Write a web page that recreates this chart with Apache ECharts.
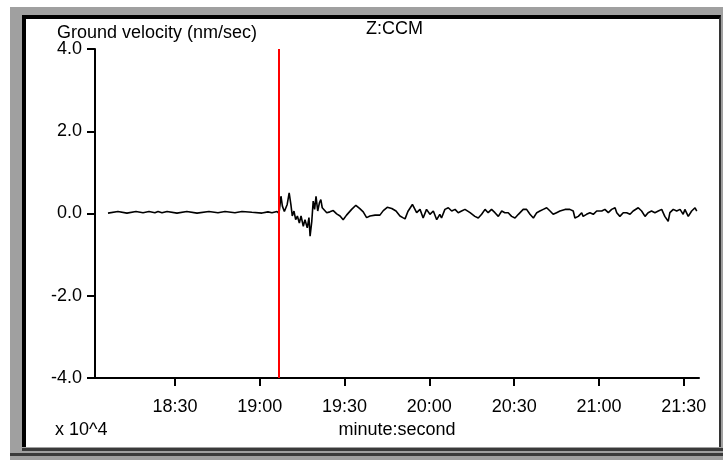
<!DOCTYPE html>
<html>
<head>
<meta charset="utf-8">
<script src="https://cdn.jsdelivr.net/npm/echarts@6/dist/echarts.min.js"></script>
<style>
  html, body { margin: 0; padding: 0; width: 723px; height: 460px; background: #ffffff; overflow: hidden; }
  .abs { position: absolute; }
  #outer { left: 10px; top: 7px; width: 713px; height: 453px; background: #a0a0a0; }
  #panel { left: 22px; top: 15px; width: 693px; height: 428px; background: #ffffff;
           border-left: 4px solid #000; border-top: 4px solid #000; border-right: 2px solid #333; }
  #line1 { left: 22px; top: 448px; width: 701px; height: 3px; background: #3a3a3a; }
  #line2 { left: 10px; top: 453px; width: 713px; height: 3px; background: #3a3a3a; }
  #chart { left: 0; top: 0; width: 723px; height: 460px; }
</style>
</head>
<body>
<div id="outer" class="abs"></div>
<div id="panel" class="abs"></div>
<div id="line1" class="abs"></div>
<div id="line2" class="abs"></div>
<div id="chart" class="abs"></div>
<script>
// time in seconds (minute:second axis), velocity in units of 10^4 nm/sec
const seconds = [
  1086.3, 1089.8, 1093.0, 1096.2, 1098.7, 1100.8, 1102.9, 1104.0, 1105.4, 1107.2,
  1110.7, 1114.2, 1117.8, 1122.0, 1125.2, 1127.7, 1131.2, 1133.7, 1137.2, 1140.8,
  1142.9, 1144.3, 1146.1, 1146.8,
  1147.5, 1148.0, 1148.7, 1149.7, 1150.4, 1151.0, 1151.5, 1152.1, 1152.7, 1153.3,
  1154.0, 1154.6, 1155.4, 1156.0, 1156.8, 1157.4, 1157.8, 1158.4, 1158.9, 1159.4,
  1159.9, 1160.5, 1161.1, 1161.6, 1162.1, 1162.8, 1163.7, 1164.8, 1166.0, 1167.2,
  1168.4, 1169.5, 1170.7, 1172.5, 1174.0, 1175.4, 1176.6, 1177.8, 1179.0, 1180.8,
  1182.5, 1183.7, 1185.1, 1186.7, 1188.2, 1189.6, 1190.6, 1191.4, 1192.4, 1194.0,
  1195.5, 1196.7, 1197.8, 1199.0, 1200.2, 1201.4, 1202.6, 1203.7, 1204.3, 1205.5,
  1206.7, 1207.9, 1209.1, 1210.2, 1211.4, 1212.6, 1214.4, 1216.1, 1217.3, 1218.5,
  1219.7, 1220.8, 1222.0, 1223.2, 1224.4, 1225.6, 1226.7, 1227.9, 1229.1, 1230.3,
  1231.5, 1233.2, 1234.4, 1235.6, 1236.8, 1238.0, 1239.1, 1240.3, 1241.5, 1242.7,
  1243.8, 1245.0, 1246.2, 1248.0, 1249.7, 1250.9, 1251.5, 1252.7, 1253.9, 1254.4,
  1255.6, 1256.8, 1258.0, 1259.2, 1261.0, 1262.1, 1263.3, 1264.5, 1265.7, 1266.3,
  1267.4, 1268.6, 1269.8, 1271.0, 1272.1, 1273.9, 1275.1, 1276.3, 1277.4, 1278.6,
  1279.8, 1281.0, 1282.2, 1283.3, 1284.5, 1285.1, 1286.3, 1287.5, 1288.7, 1289.8,
  1290.4, 1291.6, 1292.8, 1294.0, 1294.6
];
const velocity = [
  0.01, 0.05, 0.01, 0.05, 0.02, 0.05, 0.02, 0.05, 0.02, 0.05,
  0.01, 0.05, 0.01, 0.05, 0.02, 0.05, 0.02, 0.05, 0.03, 0.01,
  0.04, 0.02, 0.05, 0.00,
  0.42, 0.18, 0.05, 0.22, 0.50, 0.22, -0.06, 0.06, -0.15, -0.06,
  -0.23, -0.06, -0.31, -0.15, -0.35, -0.10, -0.55, -0.19, 0.30, 0.10,
  0.42, 0.06, 0.26, 0.34, 0.14, 0.18, 0.02, 0.04, 0.07, -0.01,
  -0.06, -0.15, -0.04, 0.10, 0.20, 0.12, 0.04, -0.10, -0.06, -0.04,
  -0.04, 0.07, 0.15, 0.12, 0.06, -0.06, -0.10, -0.13, 0.05, 0.22,
  0.02, 0.10, -0.11, 0.10, -0.02, 0.06, -0.15, -0.02, -0.11, 0.10,
  0.14, 0.06, 0.10, 0.02, 0.06, 0.10, 0.02, -0.07, -0.11, -0.02,
  0.10, 0.02, 0.10, 0.02, -0.07, 0.06, 0.02, 0.02, -0.07, -0.11,
  -0.02, 0.10, 0.10, -0.02, -0.11, 0.02, 0.06, 0.10, 0.14, 0.06,
  -0.02, 0.02, 0.06, 0.10, 0.10, 0.06, -0.11, -0.07, 0.02, -0.07,
  -0.02, 0.02, -0.02, 0.06, 0.06, 0.10, 0.02, 0.10, 0.14, 0.02,
  -0.07, 0.02, 0.02, -0.02, 0.06, 0.14, 0.06, -0.07, 0.02, 0.06,
  0.02, 0.06, 0.10, -0.07, -0.19, 0.02, 0.10, 0.06, 0.10, -0.02,
  0.10, -0.07, 0.06, 0.14, 0.06
];
const xTickSeconds = [1110, 1140, 1170, 1200, 1230, 1260, 1290];
const yTicks = [-4, -2, 0, 2, 4];
const pickTime = 1146.8;
const titleText = 'Z:CCM';
const yTitle = 'Ground velocity (nm/sec)';
const xTitle = 'minute:second';
const scaleText = 'x 10^4';

const FONT = '"Liberation Sans", Arial, sans-serif';
const FS = 18;
function mmss(v) {
  const m = Math.floor(v / 60);
  const s = Math.round(v - m * 60);
  return m + ':' + (s < 10 ? '0' + s : s);
}
const points = seconds.map((t, i) => [t, velocity[i]]);

const chart = echarts.init(document.getElementById('chart'), null, { renderer: 'canvas' });
chart.setOption({
  animation: false,
  backgroundColor: 'transparent',
  grid: { left: 95, top: 49, right: 24, bottom: 82, containLabel: false },
  xAxis: {
    type: 'value', min: 1081.7, max: 1295.4,
    name: xTitle, nameLocation: 'middle', nameGap: 42,
    nameTextStyle: { color: '#000', fontSize: FS, fontFamily: FONT },
    axisLine: { onZero: false, lineStyle: { color: '#000', width: 2 } },
    axisTick: { show: true, length: 8, lineStyle: { color: '#000', width: 2 }, customValues: xTickSeconds },
    axisLabel: { color: '#000', fontSize: FS, fontFamily: FONT, margin: 20,
                 customValues: xTickSeconds, formatter: mmss },
    splitLine: { show: false }
  },
  yAxis: {
    type: 'value', min: yTicks[0], max: yTicks[yTicks.length - 1], interval: 2,
    axisLine: { show: true, lineStyle: { color: '#000', width: 2 } },
    axisTick: { show: true, length: 8, lineStyle: { color: '#000', width: 2 } },
    axisLabel: { color: '#000', fontSize: FS, fontFamily: FONT, margin: 13,
                 formatter: v => v.toFixed(1) },
    splitLine: { show: false }
  },
  graphic: [
    { type: 'text', left: 57, top: 24, style: { text: yTitle, fill: '#000', font: FS + 'px ' + FONT } },
    { type: 'text', left: 366, top: 20, style: { text: titleText, fill: '#000', font: FS + 'px ' + FONT } },
    { type: 'text', left: 55, top: 421, style: { text: scaleText, fill: '#000', font: FS + 'px ' + FONT } }
  ],
  series: [{
    type: 'line', data: points, showSymbol: false, symbol: 'none',
    lineStyle: { color: '#000', width: 1.6 },
    markLine: {
      silent: true, symbol: ['none', 'none'], label: { show: false },
      lineStyle: { color: '#ff0000', width: 2, type: 'solid' },
      data: [{ xAxis: pickTime }]
    }
  }]
});
</script>
</body>
</html>
